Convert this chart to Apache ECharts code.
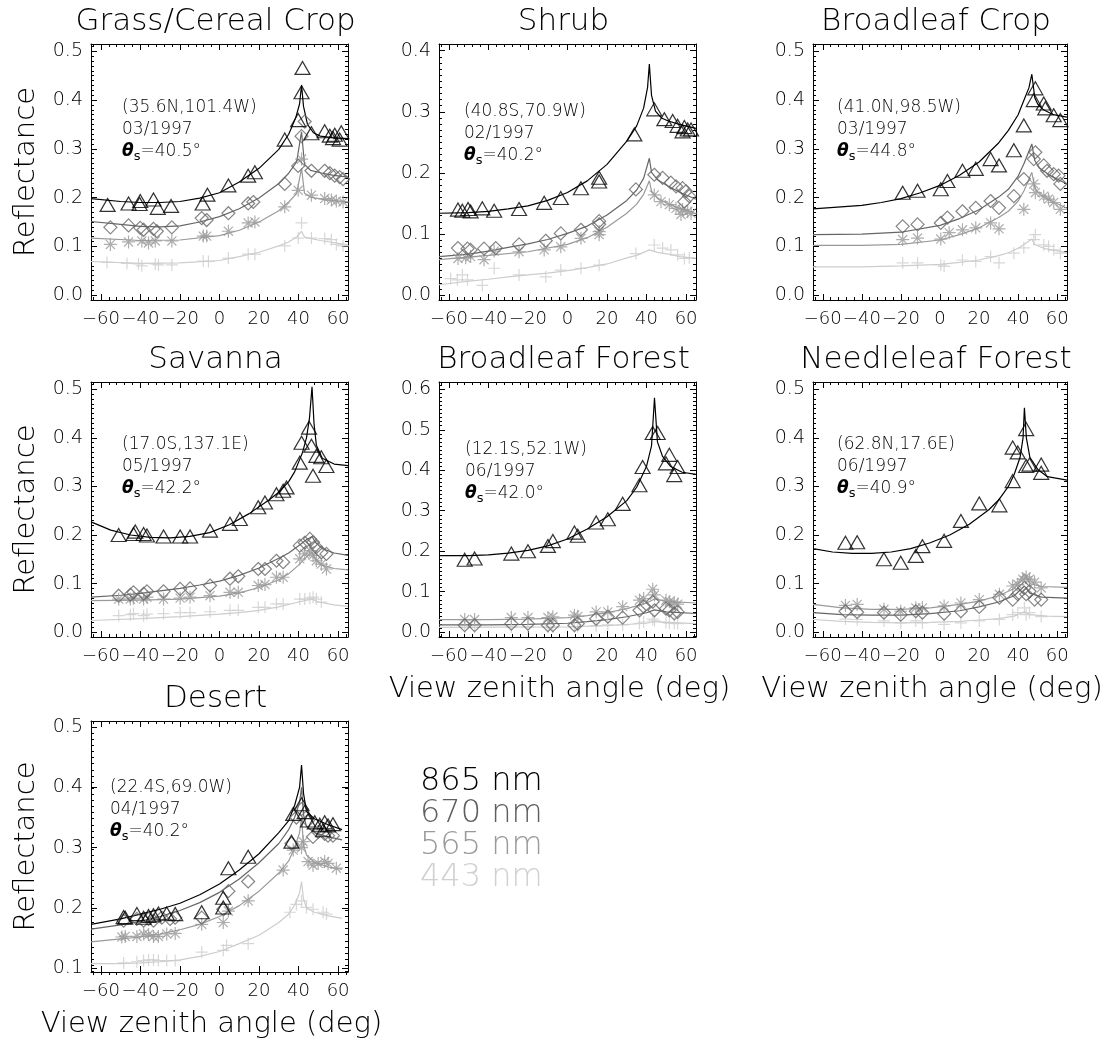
<!doctype html>
<html>
<head>
<meta charset="utf-8">
<title>MISR reflectance vs view zenith angle</title>
<script src="https://cdn.jsdelivr.net/npm/echarts@6/dist/echarts.min.js"></script>
<style>
  html, body { margin: 0; padding: 0; background: #fff; }
  #main { width: 1114px; height: 1040px; }
</style>
</head>
<body>
<div id="main"></div>
<script>
// ---- data: [view zenith angle (deg), reflectance] ----
// Grass/Cereal Crop
var grass865Pts = [[-56.6,0.185],[-46.0,0.188],[-40.1,0.193],[-40.4,0.187],[-33.4,0.196],[-31.2,0.179],[-24.5,0.183],[-8.5,0.188],[-6.1,0.206],[4.5,0.225],[14.5,0.245],[17.9,0.252],[33.0,0.319],[39.8,0.359],[41.5,0.416],[42.0,0.466],[46.5,0.332],[53.2,0.336],[55.8,0.327],[58.3,0.329],[61.6,0.334],[60.8,0.319],[57.4,0.322]];
var grass670Pts = [[-55.2,0.139],[-46.0,0.143],[-40.1,0.138],[-38.4,0.134],[-33.4,0.136],[-31.7,0.131],[-24.1,0.139],[-9.0,0.158],[-6.5,0.154],[4.5,0.168],[14.5,0.188],[17.1,0.191],[33.0,0.228],[39.8,0.265],[41.5,0.326],[43.1,0.356],[46.5,0.255],[53.2,0.255],[55.8,0.250],[58.3,0.245],[60.8,0.242],[62.5,0.238]];
var grass565Pts = [[-55.2,0.104],[-46.0,0.109],[-39.3,0.111],[-35.9,0.107],[-32.5,0.111],[-24.1,0.111],[-8.2,0.121],[-6.5,0.121],[4.5,0.131],[14.5,0.148],[17.9,0.150],[33.0,0.181],[39.8,0.215],[41.5,0.279],[46.5,0.205],[53.2,0.198],[56.6,0.195],[59.1,0.193],[62.5,0.191]];
var grass443Pts = [[-56.9,0.067],[-46.8,0.065],[-41.0,0.064],[-39.3,0.060],[-32.5,0.064],[-30.9,0.062],[-24.1,0.062],[-8.2,0.070],[-5.6,0.069],[4.5,0.076],[14.5,0.084],[17.9,0.084],[33.0,0.101],[39.8,0.117],[41.5,0.148],[46.5,0.117],[53.2,0.116],[56.6,0.114],[59.1,0.104],[62.5,0.101]];
var grass865Fit = [[-65,0.198],[-50,0.192],[-40,0.190],[-30,0.190],[-20,0.192],[-10,0.199],[0,0.210],[10,0.232],[20,0.260],[30,0.299],[35,0.330],[38.5,0.363],[40.5,0.392],[41.5,0.431],[42.5,0.387],[44.5,0.350],[47.5,0.333],[51,0.326],[57,0.323],[65,0.321]];
var grass670Fit = [[-65,0.151],[-50,0.145],[-40,0.141],[-30,0.140],[-20,0.142],[-10,0.150],[0,0.161],[10,0.177],[20,0.199],[30,0.229],[35,0.250],[39,0.273],[41.5,0.335],[43,0.268],[46,0.256],[51,0.251],[57,0.246],[65,0.242]];
var grass565Fit = [[-65,0.117],[-40,0.112],[-20,0.113],[0,0.122],[10,0.133],[20,0.150],[30,0.173],[35,0.191],[39,0.208],[41.5,0.260],[43,0.209],[46,0.201],[53,0.196],[65,0.191]];
var grass443Fit = [[-65,0.069],[-40,0.065],[-20,0.066],[0,0.071],[10,0.079],[20,0.088],[30,0.101],[35,0.109],[39,0.119],[41.5,0.131],[43,0.119],[51,0.112],[65,0.103]];

// Shrub
var shrub865Pts = [[-55.4,0.140],[-53.2,0.138],[-50.3,0.141],[-49.0,0.137],[-43.1,0.142],[-37.1,0.138],[-24.5,0.141],[-11.8,0.151],[-3.4,0.159],[6.8,0.175],[16.0,0.192],[16.0,0.186],[33.8,0.263],[43.9,0.304],[49.0,0.288],[53.2,0.285],[55.7,0.277],[59.1,0.275],[60.8,0.271],[62.5,0.271],[58.2,0.268]];
var shrub670Pts = [[-55.4,0.077],[-50.6,0.076],[-49.0,0.074],[-42.2,0.076],[-36.3,0.077],[-24.5,0.083],[-11.0,0.089],[-3.4,0.101],[6.8,0.107],[16.0,0.121],[16.0,0.116],[34.6,0.173],[43.9,0.197],[48.1,0.192],[52.3,0.184],[54.9,0.178],[58.2,0.175],[59.9,0.170],[61.6,0.162],[59.1,0.153]];
var shrub565Pts = [[-55.4,0.060],[-51.5,0.061],[-49.0,0.063],[-42.2,0.058],[-37.1,0.072],[-24.5,0.071],[-11.8,0.074],[-3.4,0.079],[6.8,0.093],[16.0,0.099],[16.0,0.104],[43.9,0.164],[47.3,0.153],[51.5,0.148],[54.9,0.142],[58.2,0.140],[60.8,0.137],[62.5,0.134],[57.4,0.132]];
var shrub443Pts = [[-59.1,0.027],[-55.7,0.025],[-53.2,0.033],[-50.6,0.025],[-43.1,0.016],[-37.1,0.044],[-24.5,0.033],[-11.0,0.030],[-3.4,0.041],[6.8,0.044],[16.0,0.049],[34.6,0.068],[43.9,0.082],[48.1,0.077],[52.3,0.074],[55.7,0.066],[59.1,0.060],[61.6,0.061]];
var shrub865Fit = [[-65,0.134],[-50,0.135],[-40,0.137],[-30,0.141],[-20,0.146],[-10,0.155],[0,0.168],[10,0.187],[20,0.214],[30,0.252],[35,0.277],[38.5,0.306],[40.5,0.340],[41.4,0.378],[42.5,0.327],[44.5,0.301],[47.5,0.290],[51,0.285],[57,0.279],[65,0.273]];
var shrub670Fit = [[-65,0.063],[-50,0.067],[-40,0.072],[-30,0.078],[-20,0.084],[-10,0.091],[0,0.101],[10,0.113],[20,0.131],[30,0.155],[35,0.172],[38.5,0.191],[41.4,0.224],[42.5,0.201],[45.5,0.189],[51,0.178],[57,0.168],[65,0.157]];
var shrub565Fit = [[-65,0.058],[-40,0.065],[-20,0.071],[0,0.083],[10,0.094],[20,0.111],[30,0.134],[35,0.149],[38.5,0.165],[41.4,0.187],[42.5,0.170],[45.5,0.159],[51,0.149],[57,0.142],[65,0.133]];
var shrub443Fit = [[-65,0.017],[-50,0.023],[-40,0.026],[-30,0.030],[-20,0.033],[-10,0.036],[0,0.040],[10,0.045],[20,0.051],[30,0.061],[35,0.065],[41.4,0.074],[45.5,0.070],[51,0.067],[57,0.063],[65,0.060]];

// Broadleaf Crop
var bcrop865Pts = [[-19.1,0.210],[-11.5,0.214],[0.4,0.217],[3.8,0.234],[11.5,0.255],[18.3,0.259],[25.9,0.279],[30.2,0.266],[37.8,0.297],[42.9,0.348],[48.8,0.424],[48.0,0.400],[53.1,0.393],[53.9,0.383],[58.2,0.369],[61.6,0.359]];
var bcrop670Pts = [[-19.1,0.141],[-11.5,0.145],[0.4,0.148],[3.8,0.159],[11.5,0.172],[18.3,0.179],[25.9,0.193],[30.2,0.179],[37.8,0.203],[42.9,0.238],[48.8,0.293],[48.0,0.279],[53.1,0.266],[54.8,0.255],[58.2,0.248],[61.6,0.228],[60.7,0.245]];
var bcrop565Pts = [[-19.1,0.114],[-11.5,0.117],[0.4,0.115],[4.7,0.128],[11.5,0.134],[18.3,0.138],[25.9,0.148],[30.2,0.136],[42.9,0.176],[48.0,0.228],[48.8,0.210],[53.1,0.203],[55.6,0.197],[58.2,0.190],[61.6,0.176]];
var bcrop443Pts = [[-19.1,0.066],[-11.5,0.066],[0.4,0.062],[2.1,0.059],[11.5,0.072],[18.3,0.069],[25.9,0.079],[30.2,0.066],[37.8,0.086],[42.9,0.097],[48.8,0.124],[48.0,0.114],[53.1,0.103],[55.6,0.100],[58.2,0.093],[61.6,0.086]];
var bcrop865Fit = [[-65,0.177],[-40,0.184],[-30,0.190],[-20,0.198],[-10,0.210],[0,0.225],[10,0.246],[20,0.273],[30,0.312],[35,0.338],[40,0.370],[43,0.400],[45.5,0.425],[47,0.453],[48.5,0.405],[50,0.392],[53,0.380],[58,0.370],[65,0.365]];
var bcrop670Fit = [[-65,0.124],[-40,0.125],[-20,0.129],[0,0.143],[10,0.157],[20,0.175],[30,0.201],[35,0.217],[40,0.244],[43,0.270],[47,0.310],[48.5,0.276],[51,0.260],[57,0.244],[65,0.228]];
var bcrop565Fit = [[-65,0.102],[-40,0.102],[-20,0.104],[0,0.113],[10,0.124],[20,0.138],[30,0.159],[35,0.172],[40,0.193],[43,0.214],[47,0.252],[48.5,0.220],[51,0.207],[57,0.193],[65,0.178]];
var bcrop443Fit = [[-65,0.058],[-40,0.058],[-20,0.060],[0,0.063],[10,0.067],[20,0.072],[30,0.081],[35,0.087],[40,0.096],[43,0.104],[47,0.115],[48.5,0.104],[53,0.096],[65,0.087]];

// Savanna
var sav865Pts = [[-51.0,0.200],[-43.5,0.202],[-42.6,0.207],[-38.4,0.202],[-36.7,0.199],[-28.3,0.197],[-19.9,0.197],[-14.9,0.197],[-4.8,0.209],[5.3,0.223],[10.3,0.233],[19.6,0.257],[23.0,0.267],[28.8,0.284],[32.2,0.291],[33.9,0.298],[40.6,0.349],[41.5,0.390],[45.3,0.421],[46.5,0.384],[49.0,0.363],[47.3,0.322],[51.5,0.360],[54.1,0.342]];
var sav670Pts = [[-51.0,0.075],[-45.1,0.077],[-43.5,0.082],[-38.4,0.079],[-36.7,0.084],[-28.3,0.084],[-19.9,0.089],[-14.9,0.090],[-4.8,0.096],[5.3,0.110],[9.5,0.115],[19.6,0.130],[23.0,0.130],[28.8,0.147],[32.2,0.144],[40.6,0.178],[43.1,0.184],[45.7,0.192],[47.3,0.185],[49.0,0.175],[51.5,0.164],[54.1,0.161]];
var sav565Pts = [[-51.0,0.068],[-45.1,0.068],[-43.5,0.070],[-38.4,0.068],[-36.7,0.072],[-28.3,0.068],[-19.9,0.070],[-14.9,0.072],[-4.8,0.075],[5.3,0.082],[9.5,0.082],[19.6,0.096],[23.0,0.098],[28.8,0.113],[32.2,0.113],[40.6,0.151],[43.1,0.161],[45.7,0.168],[47.3,0.158],[49.0,0.147],[51.5,0.140],[54.1,0.130]];
var sav443Pts = [[-51.0,0.034],[-45.1,0.036],[-43.5,0.038],[-38.4,0.034],[-36.7,0.037],[-28.3,0.038],[-19.9,0.040],[-14.9,0.040],[-4.8,0.042],[5.3,0.045],[9.5,0.045],[19.6,0.051],[23.0,0.051],[28.8,0.058],[32.2,0.058],[40.6,0.068],[43.1,0.068],[45.7,0.070],[47.3,0.072],[49.0,0.068],[51.5,0.062]];
var sav865Fit = [[-65,0.227],[-55,0.210],[-45,0.200],[-35,0.195],[-25,0.194],[-15,0.197],[-5,0.205],[5,0.221],[15,0.244],[25,0.272],[30,0.288],[35,0.310],[38,0.330],[40,0.350],[42,0.370],[44,0.400],[45.5,0.440],[46.8,0.505],[47.8,0.430],[49,0.385],[52,0.358],[58,0.346],[65,0.343]];
var sav670Fit = [[-65,0.072],[-50,0.076],[-40,0.080],[-30,0.085],[-20,0.090],[-10,0.097],[0,0.105],[10,0.117],[20,0.132],[30,0.152],[35,0.163],[40,0.178],[44,0.190],[46.8,0.197],[48.5,0.185],[52,0.172],[58,0.163],[65,0.158]];
var sav565Fit = [[-65,0.065],[-40,0.066],[-20,0.068],[0,0.074],[10,0.081],[20,0.092],[30,0.108],[35,0.120],[40,0.138],[44,0.155],[46.8,0.165],[48.5,0.150],[52,0.138],[58,0.131],[65,0.128]];
var sav443Fit = [[-65,0.024],[-40,0.028],[-20,0.032],[0,0.037],[10,0.040],[20,0.045],[30,0.052],[40,0.062],[46.8,0.068],[50,0.062],[58,0.056],[65,0.053]];

// Broadleaf Forest
var bfor865Pts = [[-52.0,0.179],[-47.0,0.182],[-28.4,0.194],[-20.0,0.200],[-9.9,0.213],[-7.4,0.225],[3.5,0.246],[5.2,0.238],[14.5,0.271],[20.4,0.279],[27.9,0.317],[36.4,0.363],[38.0,0.408],[43.1,0.492],[45.6,0.492],[49.8,0.417],[51.5,0.438],[54.0,0.388],[55.7,0.408]];
var bfor670Pts = [[-52.0,0.017],[-47.0,0.017],[-28.4,0.021],[-20.0,0.021],[-9.9,0.017],[-7.4,0.017],[3.5,0.017],[5.2,0.021],[14.5,0.033],[20.4,0.038],[27.9,0.036],[36.4,0.054],[38.5,0.063],[43.1,0.075],[44.0,0.054],[49.8,0.058],[51.5,0.054],[54.0,0.046],[55.7,0.050]];
var bfor565Pts = [[-52.0,0.031],[-47.0,0.031],[-28.4,0.036],[-20.0,0.036],[-9.9,0.036],[-7.4,0.038],[3.5,0.042],[5.2,0.039],[14.5,0.050],[20.4,0.050],[27.9,0.063],[36.4,0.079],[38.5,0.083],[43.1,0.106],[44.0,0.092],[49.8,0.079],[51.5,0.075],[54.0,0.073],[55.7,0.069]];
var bfor443Pts = [[-52.0,0.012],[-47.0,0.012],[-28.4,0.013],[-20.0,0.013],[-9.9,0.012],[-7.4,0.012],[3.5,0.013],[5.2,0.014],[14.5,0.016],[20.4,0.018],[27.9,0.018],[36.4,0.022],[38.5,0.025],[43.1,0.032],[44.0,0.028],[49.8,0.024],[51.5,0.022],[54.0,0.022],[55.7,0.021]];
var bfor865Fit = [[-65,0.189],[-50,0.189],[-40,0.191],[-30,0.195],[-20,0.202],[-10,0.213],[0,0.230],[10,0.255],[20,0.285],[30,0.325],[35,0.358],[40,0.410],[42.5,0.460],[44,0.579],[45.5,0.470],[48,0.435],[52,0.410],[58,0.395],[65,0.390]];
var bfor670Fit = [[-65,0.018],[-40,0.018],[-20,0.019],[0,0.022],[10,0.026],[20,0.031],[30,0.038],[40,0.048],[44,0.055],[50,0.050],[65,0.046]];
var bfor565Fit = [[-65,0.031],[-40,0.031],[-20,0.032],[0,0.036],[10,0.041],[20,0.048],[30,0.058],[40,0.072],[44,0.082],[50,0.076],[65,0.072]];
var bfor443Fit = [[-65,0.012],[0,0.013],[20,0.016],[40,0.022],[44,0.026],[50,0.024],[65,0.021]];

// Needleleaf Forest
var nfor865Pts = [[-48.4,0.184],[-42.4,0.185],[-28.7,0.150],[-20.1,0.143],[-12.4,0.157],[-9.0,0.177],[2.1,0.188],[10.7,0.229],[20.1,0.265],[30.4,0.261],[37.2,0.311],[37.2,0.380],[39.8,0.370],[44.1,0.418],[44.1,0.342],[45.8,0.345],[51.8,0.345],[51.8,0.328]];
var nfor670Pts = [[-48.4,0.043],[-42.4,0.041],[-28.7,0.040],[-20.1,0.036],[-12.4,0.043],[-9.0,0.040],[2.1,0.038],[10.7,0.043],[20.1,0.052],[30.4,0.071],[37.2,0.067],[39.8,0.078],[43.2,0.091],[44.1,0.078],[45.8,0.084],[48.4,0.067],[51.8,0.067]];
var nfor565Pts = [[-48.4,0.055],[-42.4,0.057],[-28.7,0.047],[-20.1,0.043],[-12.4,0.050],[-9.0,0.050],[2.1,0.054],[10.7,0.060],[20.1,0.067],[30.4,0.078],[37.2,0.095],[39.8,0.098],[42.4,0.109],[44.1,0.114],[45.8,0.109],[48.4,0.103],[51.8,0.091]];
var nfor443Pts = [[-48.4,0.027],[-42.4,0.026],[-28.7,0.023],[-20.1,0.019],[-12.4,0.023],[-9.0,0.019],[2.1,0.016],[10.7,0.019],[20.1,0.023],[30.4,0.026],[37.2,0.036],[39.8,0.040],[43.2,0.050],[44.1,0.036],[45.8,0.040],[51.8,0.032]];
var nfor865Fit = [[-65,0.172],[-55,0.165],[-45,0.162],[-35,0.162],[-25,0.165],[-15,0.172],[-5,0.184],[5,0.200],[15,0.222],[25,0.252],[30,0.272],[35,0.300],[38,0.325],[41,0.360],[42.5,0.400],[43.2,0.462],[44.2,0.400],[46,0.360],[50,0.335],[55,0.320],[65,0.313]];
var nfor670Fit = [[-65,0.040],[-50,0.036],[-35,0.035],[-20,0.035],[-5,0.038],[10,0.044],[20,0.052],[30,0.062],[38,0.075],[43.2,0.095],[46,0.080],[52,0.072],[65,0.070]];
var nfor565Fit = [[-65,0.057],[-50,0.050],[-35,0.047],[-20,0.047],[-5,0.050],[10,0.057],[20,0.064],[30,0.075],[38,0.090],[43.2,0.120],[46,0.100],[52,0.094],[65,0.092]];
var nfor443Fit = [[-65,0.026],[-50,0.022],[-35,0.020],[-20,0.019],[-5,0.020],[10,0.022],[20,0.025],[30,0.028],[38,0.033],[43.2,0.042],[46,0.036],[55,0.033],[65,0.032]];

// Desert
var des865Pts = [[-48.5,0.185],[-47.7,0.184],[-41.8,0.190],[-38.4,0.184],[-35.9,0.187],[-33.4,0.188],[-30.9,0.191],[-26.7,0.191],[-22.4,0.190],[-9.0,0.193],[1.9,0.217],[1.9,0.201],[4.5,0.266],[14.5,0.285],[36.4,0.310],[37.3,0.356],[41.5,0.372],[43.1,0.359],[44.8,0.345],[48.2,0.342],[50.7,0.338],[53.2,0.342],[54.9,0.337],[57.4,0.339],[52.4,0.329]];
var des670Pts = [[-48.5,0.179],[-41.8,0.182],[-38.4,0.179],[-35.9,0.182],[-33.4,0.179],[-29.2,0.184],[-25.0,0.182],[-22.4,0.184],[-9.0,0.184],[1.9,0.198],[4.5,0.228],[14.5,0.244],[36.4,0.307],[38.9,0.350],[41.5,0.364],[44.8,0.345],[47.3,0.318],[49.9,0.326],[53.2,0.323],[54.9,0.320],[57.4,0.320]];
var des565Pts = [[-49.4,0.152],[-47.7,0.153],[-41.8,0.153],[-38.4,0.157],[-35.9,0.156],[-33.4,0.153],[-30.9,0.153],[-26.7,0.157],[-22.4,0.158],[-9.0,0.173],[1.9,0.176],[4.5,0.195],[14.5,0.212],[32.2,0.263],[37.3,0.296],[41.5,0.300],[42.3,0.310],[44.8,0.277],[47.3,0.271],[49.9,0.274],[53.2,0.277],[54.9,0.274],[59.1,0.266]];
var des443Pts = [[-48.5,0.109],[-41.8,0.111],[-38.4,0.113],[-35.9,0.114],[-33.4,0.114],[-30.9,0.113],[-26.7,0.113],[-22.4,0.113],[-9.0,0.127],[1.9,0.130],[3.6,0.138],[14.5,0.141],[35.6,0.193],[38.9,0.206],[41.5,0.212],[44.0,0.201],[47.3,0.198],[52.4,0.193],[54.1,0.190]];
var des865Fit = [[-65,0.173],[-50,0.182],[-40,0.190],[-30,0.198],[-20,0.208],[-10,0.222],[0,0.240],[10,0.263],[20,0.290],[30,0.325],[35,0.345],[38,0.370],[40.5,0.400],[41.5,0.437],[42.5,0.390],[44,0.360],[48,0.348],[55,0.338],[62,0.330]];
var des670Fit = [[-65,0.165],[-50,0.172],[-40,0.178],[-30,0.186],[-20,0.196],[-10,0.209],[0,0.226],[10,0.248],[20,0.275],[30,0.307],[35,0.330],[38,0.350],[40.5,0.375],[41.5,0.400],[42.5,0.355],[44,0.335],[48,0.325],[55,0.318],[62,0.313]];
var des565Fit = [[-65,0.144],[-50,0.149],[-40,0.152],[-30,0.157],[-20,0.164],[-10,0.173],[0,0.186],[10,0.204],[20,0.228],[30,0.258],[35,0.278],[38,0.300],[40.5,0.325],[41.5,0.350],[42.5,0.305],[44,0.288],[48,0.276],[55,0.268],[62,0.264]];
var des443Fit = [[-65,0.108],[-50,0.108],[-40,0.109],[-30,0.111],[-20,0.114],[-10,0.120],[0,0.128],[10,0.141],[20,0.155],[30,0.176],[35,0.190],[38,0.205],[40.5,0.225],[41.5,0.244],[42.5,0.215],[44,0.200],[48,0.193],[55,0.187],[62,0.183]];

// ---- panel labels and axes ----
var bands = ['865 nm', '670 nm', '565 nm', '443 nm'];
var panelTitles = ['Grass/Cereal Crop', 'Shrub', 'Broadleaf Crop', 'Savanna', 'Broadleaf Forest', 'Needleleaf Forest', 'Desert'];
var panelSites = ['(35.6N,101.4W)', '(40.8S,70.9W)', '(41.0N,98.5W)', '(17.0S,137.1E)', '(12.1S,52.1W)', '(62.8N,17.6E)', '(22.4S,69.0W)'];
var panelDates = ['03/1997', '02/1997', '03/1997', '05/1997', '06/1997', '06/1997', '04/1997'];
var panelSza = ['40.5', '40.2', '44.8', '42.2', '42.0', '40.9', '40.2'];
var panelYRange = [[-0.010, 0.515], [-0.008, 0.411], [-0.010, 0.515], [-0.010, 0.515], [-0.012, 0.618], [-0.010, 0.515], [0.094, 0.510]];
var panelYTicks = [[0, 0.1, 0.2, 0.3, 0.4, 0.5], [0, 0.1, 0.2, 0.3, 0.4], [0, 0.1, 0.2, 0.3, 0.4, 0.5], [0, 0.1, 0.2, 0.3, 0.4, 0.5], [0, 0.1, 0.2, 0.3, 0.4, 0.5, 0.6], [0, 0.1, 0.2, 0.3, 0.4, 0.5], [0.1, 0.2, 0.3, 0.4, 0.5]];
var xTicks = [-60, -40, -20, 0, 20, 40, 60];
var xRange = [-65, 65];
var panelPts = [
  [grass865Pts, grass670Pts, grass565Pts, grass443Pts],
  [shrub865Pts, shrub670Pts, shrub565Pts, shrub443Pts],
  [bcrop865Pts, bcrop670Pts, bcrop565Pts, bcrop443Pts],
  [sav865Pts, sav670Pts, sav565Pts, sav443Pts],
  [bfor865Pts, bfor670Pts, bfor565Pts, bfor443Pts],
  [nfor865Pts, nfor670Pts, nfor565Pts, nfor443Pts],
  [des865Pts, des670Pts, des565Pts, des443Pts]
];
var panelFits = [
  [grass865Fit, grass670Fit, grass565Fit, grass443Fit],
  [shrub865Fit, shrub670Fit, shrub565Fit, shrub443Fit],
  [bcrop865Fit, bcrop670Fit, bcrop565Fit, bcrop443Fit],
  [sav865Fit, sav670Fit, sav565Fit, sav443Fit],
  [bfor865Fit, bfor670Fit, bfor565Fit, bfor443Fit],
  [nfor865Fit, nfor670Fit, nfor565Fit, nfor443Fit],
  [des865Fit, des670Fit, des565Fit, des443Fit]
];

// ---- layout (pixels) ----
var boxes = [
  [91, 44, 257, 256], [439, 44, 257, 256], [813, 44, 254, 256],
  [91, 382, 257, 255], [439, 382, 257, 255], [813, 382, 254, 255],
  [91, 721, 257, 254]
];
var notePos = [[122, 97], [464, 101], [837, 97], [122, 434], [465, 439], [837, 434], [110, 777]];
var showYName = [true, false, false, true, false, false, true];
var showXName = [false, false, false, false, true, true, true];

var FONT = 'DejaVu Sans';
var FW = 200;
var TXT = '#000000';
var bandColors = ['#000000', '#666666', '#9a9a9a', '#cdcdcd'];
var legendColors = ['#000000', '#5e5e5e', '#9a9a9a', '#d0d0d0'];
var bandSymbols = [
  'triangle',
  'diamond',
  'path://M0,6L12,6M6,0L6,12M1.8,1.8L10.2,10.2M1.8,10.2L10.2,1.8',
  'path://M0,6L12,6M6,0L6,12'
];
var bandSymbolSizes = [[15, 13], [13, 13], [13, 13], [12, 12]];

function fmtX(v) { return v < 0 ? '\u2212' + (-v) : String(v); }
function fmtY(v) { return v.toFixed(1); }

var xMinor = [];
for (var v = -64; v <= 64; v += 4) xMinor.push(v);
function yMinorFor(r) {
  var out = [];
  for (var k = Math.ceil(r[0] * 100 - 1e-6); k <= Math.floor(r[1] * 100 + 1e-6); k++) out.push(k / 100);
  return out;
}

var grids = [], xAxes = [], yAxes = [], series = [], graphics = [];
var axisLineStyle = { color: '#000', width: 1 };
var tickStyle = { color: '#000', width: 1 };

panelTitles.forEach(function (title, i) {
  var b = boxes[i];
  grids.push({ left: b[0], top: b[1], width: b[2], height: b[3], containLabel: false });
  grids.push({ left: b[0], top: b[1], width: b[2], height: b[3], containLabel: false });
  var gm = 2 * i, go = 2 * i + 1;
  var yr = panelYRange[i];

  // main axes: box, major ticks, labels
  xAxes.push({
    gridIndex: gm, type: 'value', position: 'bottom', min: xRange[0], max: xRange[1],
    axisLine: { onZero: false, lineStyle: axisLineStyle },
    axisTick: { inside: true, length: 6, customValues: xTicks, lineStyle: tickStyle },
    axisLabel: {
      customValues: xTicks, formatter: fmtX, margin: 10, hideOverlap: false,
      showMinLabel: true, showMaxLabel: true,
      color: TXT, fontFamily: FONT, fontWeight: FW, fontSize: 18
    },
    splitLine: { show: false },
    name: showXName[i] ? 'View zenith angle (deg)' : '',
    nameLocation: 'middle', nameGap: 38,
    nameTextStyle: { color: TXT, fontFamily: FONT, fontWeight: FW, fontSize: 29, padding: [0, 16, 0, 0] }
  });
  xAxes.push({
    gridIndex: gm, type: 'value', position: 'top', min: xRange[0], max: xRange[1],
    axisLine: { onZero: false, lineStyle: axisLineStyle },
    axisTick: { inside: true, length: 6, customValues: xTicks, lineStyle: tickStyle },
    axisLabel: { show: false }, splitLine: { show: false }
  });
  yAxes.push({
    gridIndex: gm, type: 'value', position: 'left', min: yr[0], max: yr[1],
    axisLine: { onZero: false, lineStyle: axisLineStyle },
    axisTick: { inside: true, length: 6, customValues: panelYTicks[i], lineStyle: tickStyle },
    axisLabel: {
      customValues: panelYTicks[i], formatter: fmtY, margin: 8, hideOverlap: false,
      color: TXT, fontFamily: FONT, fontWeight: FW, fontSize: 19
    },
    splitLine: { show: false },
    name: showYName[i] ? 'Reflectance' : '',
    nameLocation: 'middle', nameGap: 50, nameRotate: 90,
    nameTextStyle: { color: TXT, fontFamily: FONT, fontWeight: FW, fontSize: 29 }
  });
  yAxes.push({
    gridIndex: gm, type: 'value', position: 'right', min: yr[0], max: yr[1],
    axisLine: { onZero: false, lineStyle: axisLineStyle },
    axisTick: { inside: true, length: 6, customValues: panelYTicks[i], lineStyle: tickStyle },
    axisLabel: { show: false }, splitLine: { show: false }
  });

  // overlay axes: minor ticks only
  ['bottom', 'top'].forEach(function (pos) {
    xAxes.push({
      gridIndex: go, type: 'value', position: pos, min: xRange[0], max: xRange[1],
      axisLine: { show: false, onZero: false },
      axisTick: { inside: true, length: 3, customValues: xMinor, lineStyle: tickStyle },
      axisLabel: { show: false }, splitLine: { show: false }
    });
  });
  ['left', 'right'].forEach(function (pos) {
    yAxes.push({
      gridIndex: go, type: 'value', position: pos, min: yr[0], max: yr[1],
      axisLine: { show: false, onZero: false },
      axisTick: { inside: true, length: 3, customValues: yMinorFor(yr), lineStyle: tickStyle },
      axisLabel: { show: false }, splitLine: { show: false }
    });
  });

  // series: lightest band first so darker ones sit on top
  for (var k = 3; k >= 0; k--) {
    series.push({
      type: 'line', name: bands[k], xAxisIndex: 4 * i, yAxisIndex: 4 * i,
      data: panelFits[i][k], showSymbol: false, symbol: 'none', silent: true,
      lineStyle: { color: bandColors[k], width: 1.2 }, itemStyle: { color: bandColors[k] }, z: 2
    });
    series.push({
      type: 'scatter', name: bands[k], xAxisIndex: 4 * i, yAxisIndex: 4 * i,
      data: panelPts[i][k], symbol: bandSymbols[k], symbolSize: bandSymbolSizes[k], silent: true,
      itemStyle: { color: 'rgba(0,0,0,0)', borderColor: bandColors[k], borderWidth: 1.2 }, z: 3
    });
  }

  // panel title and site annotation
  graphics.push({
    type: 'text', x: b[0] + b[2] / 2 - 4, y: b[1] - 22,
    style: { text: title, fill: TXT, fontFamily: FONT, fontWeight: FW, fontSize: 31, textAlign: 'center', textVerticalAlign: 'middle' }
  });
  graphics.push({
    type: 'text', x: notePos[i][0], y: notePos[i][1],
    style: {
      text: panelSites[i] + '\n' + panelDates[i] + '\n{th|\u03b8}{sub|s}=' + panelSza[i] + '\u00b0',
      fill: TXT, fontFamily: FONT, fontWeight: FW, fontSize: 17, lineHeight: 22,
      textAlign: 'left', textVerticalAlign: 'top',
      rich: {
        th: { fontFamily: FONT, fontSize: 17, fontStyle: 'italic', fontWeight: 'bold', fill: TXT, lineHeight: 22 },
        sub: { fontFamily: FONT, fontSize: 13, fill: TXT, verticalAlign: 'bottom', lineHeight: 22 }
      }
    }
  });
});

var chart = echarts.init(document.getElementById('main'), null, { renderer: 'canvas' });
chart.setOption({
  backgroundColor: '#ffffff',
  animation: false,
  legend: {
    data: bands.map(function (n, k) { return { name: n, textStyle: { color: legendColors[k] } }; }),
    orient: 'vertical', left: 414, top: 766, padding: 0,
    itemWidth: 0, itemHeight: 0, itemGap: 0, selectedMode: false,
    textStyle: { fontFamily: FONT, fontWeight: FW, fontSize: 32, lineHeight: 30 }
  },
  grid: grids,
  xAxis: xAxes,
  yAxis: yAxes,
  graphic: graphics,
  series: series
});
</script>
</body>
</html>
